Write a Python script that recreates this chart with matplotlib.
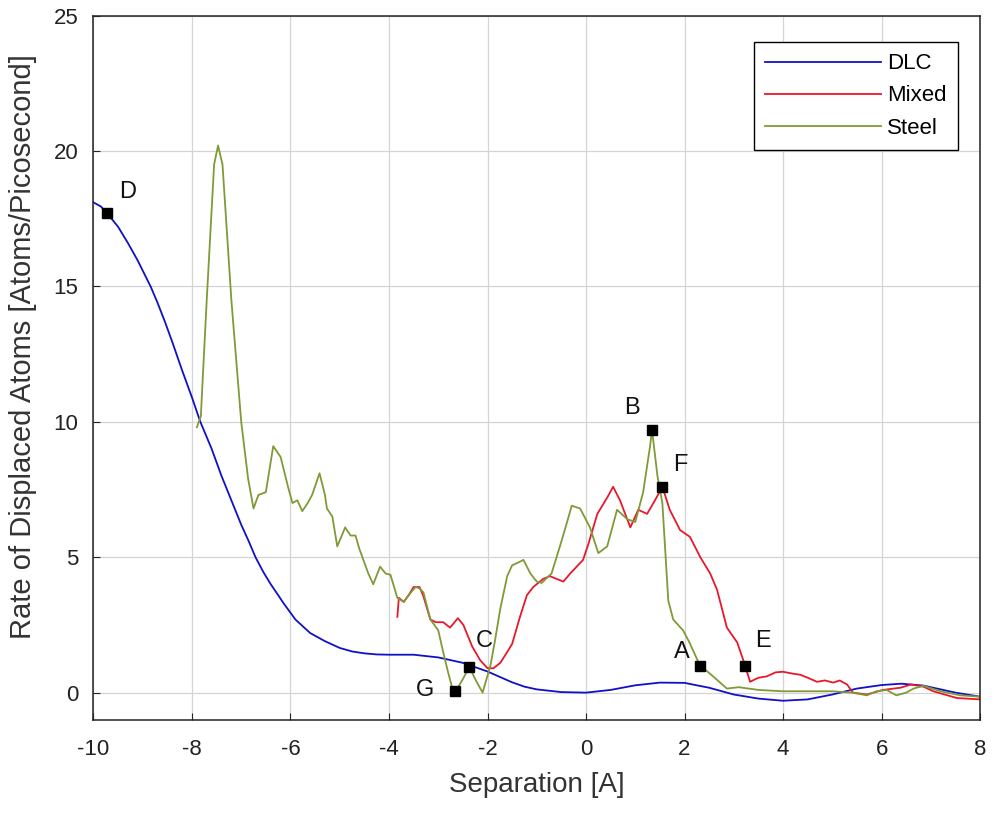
import matplotlib
matplotlib.use("Agg")
import matplotlib.pyplot as plt

plt.rcParams['font.family'] = ['Liberation Sans', 'DejaVu Sans']
plt.rcParams['axes.unicode_minus'] = False

# ---- DLC (smooth curve) ----
dlc_x = [-10, -9.85, -9.7, -9.5, -9.3, -9.1, -8.95, -8.84, -8.7, -8.55, -8.4, -8.2, -8.0,
         -7.83, -7.6, -7.4, -7.2, -7.0, -6.85, -6.71, -6.55, -6.4, -6.25, -6.14, -5.9,
         -5.6, -5.3, -5.0, -4.75, -4.5, -4.25, -4.0, -3.5, -3.0, -2.5, -2.0, -1.75, -1.5,
         -1.25, -1.0, -0.5, 0.0, 0.5, 1.0, 1.5, 2.0, 2.5, 3.0, 3.5, 4.0, 4.5, 5.0, 5.5,
         6.0, 6.4, 6.85, 7.5, 8.0]
dlc_y = [18.1, 17.95, 17.65, 17.2, 16.6, 15.95, 15.4, 15.0, 14.4, 13.7, 12.95, 11.9, 10.9,
         10.0, 9.0, 8.0, 7.1, 6.2, 5.6, 5.0, 4.45, 4.0, 3.6, 3.3, 2.7,
         2.2, 1.9, 1.65, 1.52, 1.45, 1.41, 1.4, 1.4, 1.3, 1.1, 0.78, 0.58, 0.38,
         0.22, 0.12, 0.02, 0.0, 0.1, 0.27, 0.37, 0.36, 0.18, -0.07, -0.22, -0.3, -0.25, -0.07,
         0.15, 0.28, 0.33, 0.26, 0.0, -0.15]

# ---- Mixed ----
mixed_x = [-3.83, -3.8, -3.7, -3.6, -3.5, -3.38, -3.3, -3.16, -3.05, -2.9, -2.76, -2.6,
           -2.49, -2.4, -2.31, -2.15, -2.0, -1.88, -1.74, -1.6, -1.5, -1.34, -1.2, -1.07,
           -0.87, -0.73, -0.6, -0.46, -0.32, -0.06, 0.05, 0.23, 0.43, 0.55, 0.69, 0.9,
           1.06, 1.24, 1.4, 1.55, 1.7, 1.91, 2.11, 2.32, 2.52, 2.66, 2.86, 3.07, 3.23,
           3.33, 3.5, 3.67, 3.85, 4.0, 4.2, 4.35, 4.5, 4.69, 4.85, 5.02, 5.15, 5.3, 5.42,
           5.7, 6.03, 6.38, 6.6, 6.85, 7.05, 7.53, 8.0]
mixed_y = [2.8, 3.5, 3.35, 3.6, 3.9, 3.9, 3.55, 2.7, 2.6, 2.6, 2.4, 2.75,
           2.5, 2.1, 1.7, 1.2, 0.9, 0.9, 1.1, 1.5, 1.8, 2.8, 3.6, 3.9,
           4.2, 4.3, 4.2, 4.1, 4.4, 4.9, 5.5, 6.6, 7.2, 7.6, 7.1, 6.1,
           6.75, 6.6, 7.1, 7.6, 6.75, 6.0, 5.75, 5.0, 4.4, 3.8, 2.4, 1.85, 1.0,
           0.4, 0.55, 0.6, 0.75, 0.77, 0.7, 0.66, 0.55, 0.4, 0.45, 0.37, 0.45, 0.3, 0.0,
           -0.07, 0.1, 0.18, 0.3, 0.22, 0.05, -0.2, -0.25]

# ---- Steel ----
steel_x = [-7.9, -7.82, -7.7, -7.55, -7.47, -7.38, -7.2, -7.0, -6.86, -6.75, -6.65, -6.5,
           -6.35, -6.2, -6.05, -5.96, -5.86, -5.76, -5.65, -5.56, -5.41, -5.3, -5.26, -5.15,
           -5.05, -4.89, -4.78, -4.68, -4.6, -4.52, -4.42, -4.32, -4.18, -4.07, -3.97,
           -3.83, -3.7, -3.6, -3.46, -3.38, -3.3, -3.16, -3.0, -2.9, -2.8, -2.72, -2.65,
           -2.5, -2.37, -2.25, -2.1, -1.94, -1.85, -1.74, -1.6, -1.5, -1.38, -1.27, -1.13,
           -1.0, -0.9, -0.7, -0.53, -0.4, -0.29, -0.12, 0.08, 0.25, 0.43, 0.63, 0.84, 1.0,
           1.16, 1.3, 1.34, 1.45, 1.55, 1.6, 1.67, 1.77, 1.97, 2.1, 2.32, 2.45, 2.58, 2.86,
           3.1, 3.5, 4.0, 4.5, 5.0, 5.4, 5.7, 5.9, 6.1, 6.3, 6.5, 6.65, 6.85, 7.2, 7.6, 8.0]
steel_y = [9.8, 10.2, 14.5, 19.5, 20.2, 19.5, 14.5, 10.0, 7.9, 6.8, 7.3, 7.4,
           9.1, 8.7, 7.6, 7.0, 7.1, 6.7, 7.0, 7.3, 8.1, 7.3, 6.8, 6.5,
           5.4, 6.1, 5.8, 5.8, 5.3, 4.9, 4.4, 4.0, 4.65, 4.4, 4.35,
           3.5, 3.35, 3.6, 3.9, 3.85, 3.7, 2.7, 2.3, 1.5, 0.75, 0.2, 0.05,
           0.5, 0.95, 0.5, 0.0, 1.0, 1.9, 3.1, 4.3, 4.7, 4.8, 4.9, 4.4,
           4.1, 4.05, 4.4, 5.4, 6.2, 6.9, 6.8, 6.1, 5.15, 5.4, 6.75, 6.4, 6.3,
           7.4, 9.1, 9.7, 8.0, 7.0, 5.5, 3.4, 2.7, 2.3, 1.85, 0.97, 0.8, 0.6, 0.15,
           0.2, 0.1, 0.05, 0.05, 0.05, 0.0, -0.1, 0.05, 0.1, -0.1, 0.0, 0.15, 0.25, 0.05, -0.1, -0.15]

# ---- marked points ----
mark_labels = ['D', 'B', 'F', 'C', 'G', 'A', 'E']
mark_x = [-9.72, 1.34, 1.55, -2.37, -2.65, 2.32, 3.23]
mark_y = [17.7, 9.7, 7.6, 0.95, 0.05, 0.97, 1.0]
label_x = [-9.3, 0.94, 1.91, -2.07, -3.26, 1.95, 3.6]
label_y = [18.5, 10.5, 8.4, 1.9, 0.1, 1.5, 1.9]

fig = plt.figure(figsize=(9.94, 8.16), dpi=100)
ax = fig.add_axes([0.094, 0.118, 0.892, 0.863])

ax.plot(dlc_x, dlc_y, color='#1010c8', lw=1.3, label='DLC')
ax.plot(mixed_x, mixed_y, color='#e8182c', lw=1.3, label='Mixed')
ax.plot(steel_x, steel_y, color='#7f9a36', lw=1.3, label='Steel')

ax.plot(mark_x, mark_y, 's', color='black', ms=7.5, zorder=5)
for lab, lx, ly in zip(mark_labels, label_x, label_y):
    ax.text(lx, ly, lab, fontsize=17, ha='center', va='center', color='#111111')

ax.set_xlim(-10, 8)
ax.set_ylim(-1, 25)
ax.set_xticks(range(-10, 9, 2))
ax.set_yticks(range(0, 26, 5))
ax.grid(True, color='#d4d4d4', lw=0.9)
ax.tick_params(direction='in', labelsize=16, length=5, colors='#222222')
ax.tick_params(axis='x', pad=14)
ax.tick_params(axis='y', pad=11)
for s in ax.spines.values():
    s.set_color('#222222')
    s.set_linewidth(1.1)

ax.set_xlabel('Separation [A]', fontsize=20, color='#333333')
ax.set_ylabel('Rate of Displaced Atoms [Atoms/Picosecond]', fontsize=21, color='#333333')
ax.xaxis.set_label_coords(0.5, -0.074)
ax.yaxis.set_label_coords(-0.064, 0.53)

leg = ax.legend(loc='upper right', fontsize=16, fancybox=False, framealpha=1,
                edgecolor='black', handlelength=5.2, handletextpad=0.3,
                labelspacing=0.5, borderpad=0.5, borderaxespad=0,
                bbox_to_anchor=(0.975, 0.962))
leg.get_frame().set_linewidth(1.0)

fig.savefig('out.png', dpi=100)
